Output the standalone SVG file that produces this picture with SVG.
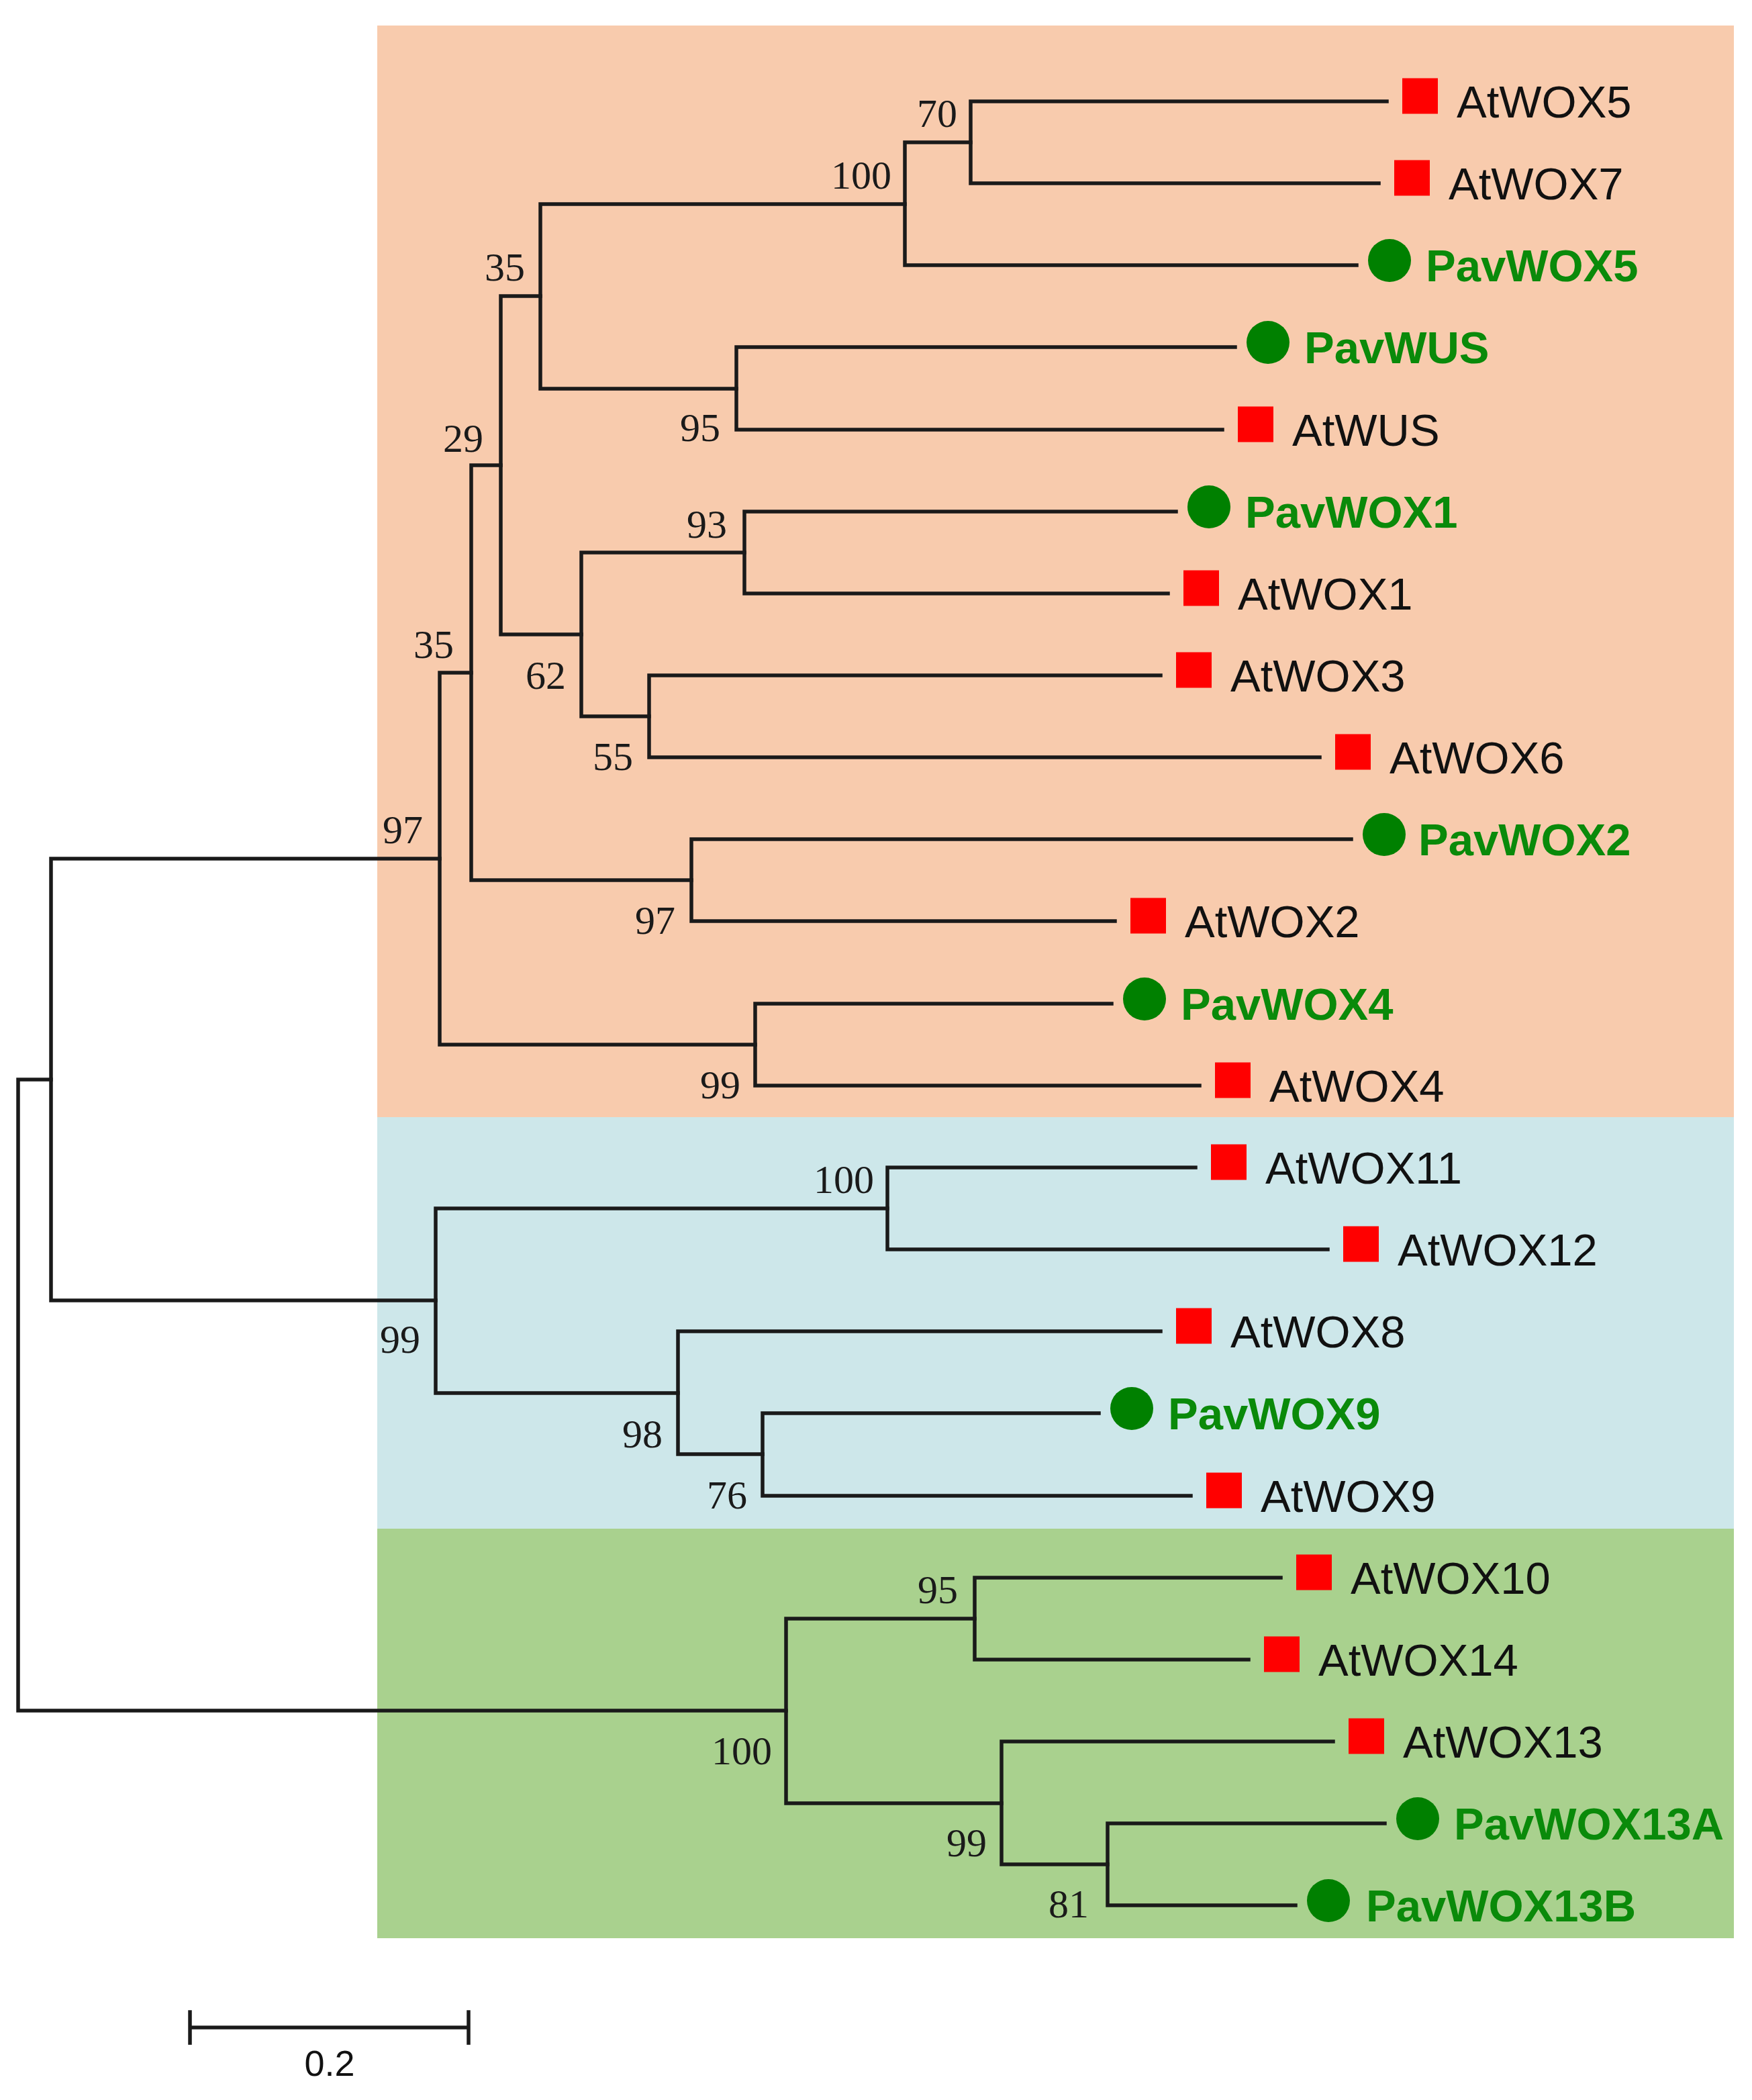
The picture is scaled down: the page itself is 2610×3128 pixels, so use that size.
<svg xmlns="http://www.w3.org/2000/svg" width="2610" height="3128" viewBox="0 0 2610 3128">
<style>
.br{fill:none;stroke:#1a1a1a;stroke-width:5.5;stroke-linecap:square;stroke-linejoin:miter}
.bs{font-family:"Liberation Serif","Times New Roman",serif;font-size:60px;fill:#1a1a1a;text-anchor:end}
.at{font-family:"Liberation Sans",Arial,sans-serif;font-size:67px;fill:#111}
.pv{font-family:"Liberation Sans",Arial,sans-serif;font-size:67px;font-weight:bold;fill:#0a8a0a}
.sq{fill:#ff0000}
.ci{fill:#008000}
</style>
<rect width="2610" height="3128" fill="#ffffff"/>
<g id="backgrounds">
<rect x="562" y="38" width="2021" height="1626" fill="#F8CBAD"/>
<rect x="562" y="1664" width="2021" height="613" fill="#CDE7EA"/>
<rect x="562" y="2277" width="2021" height="610" fill="#A9D18E"/>
</g>
<g id="connectors">
<path class="br" d="M2066,151 H1446 V273 H2054"/>
<path class="br" d="M1446,212 H1348 V395 H2021"/>
<path class="br" d="M1840,517 H1097 V640 H1821"/>
<path class="br" d="M1348,304 H805 V579 H1097"/>
<path class="br" d="M1752,762 H1109 V884 H1740"/>
<path class="br" d="M1729,1006 H967 V1128 H1966"/>
<path class="br" d="M1109,823 H866 V1067 H967"/>
<path class="br" d="M805,441 H746 V945 H866"/>
<path class="br" d="M2013,1250 H1030 V1372 H1661"/>
<path class="br" d="M746,693 H702 V1311 H1030"/>
<path class="br" d="M1656,1495 H1125 V1617 H1787"/>
<path class="br" d="M702,1002 H655 V1556 H1125"/>
<path class="br" d="M1781,1739 H1322 V1861 H1978"/>
<path class="br" d="M1637,2105 H1136 V2228 H1774"/>
<path class="br" d="M1729,1983 H1010 V2166 H1136"/>
<path class="br" d="M1322,1800 H649 V2075 H1010"/>
<path class="br" d="M655,1279 H76 V1937 H649"/>
<path class="br" d="M1908,2350 H1452 V2472 H1860"/>
<path class="br" d="M2063,2716 H1650 V2838 H1930"/>
<path class="br" d="M1986,2594 H1492 V2777 H1650"/>
<path class="br" d="M1452,2411 H1171 V2686 H1492"/>
<path class="br" d="M76,1608 H27 V2548 H1171"/>
</g>
<g id="bootstrap">
<text class="bs" x="1426" y="189">70</text>
<text class="bs" x="1328" y="281">100</text>
<text class="bs" x="1073" y="657">95</text>
<text class="bs" x="782" y="418">35</text>
<text class="bs" x="1083" y="801">93</text>
<text class="bs" x="943" y="1147">55</text>
<text class="bs" x="843" y="1026">62</text>
<text class="bs" x="720" y="673">29</text>
<text class="bs" x="1006" y="1391">97</text>
<text class="bs" x="676" y="980">35</text>
<text class="bs" x="1103" y="1636">99</text>
<text class="bs" x="630" y="1256">97</text>
<text class="bs" x="1302" y="1777">100</text>
<text class="bs" x="1113" y="2247">76</text>
<text class="bs" x="987" y="2156">98</text>
<text class="bs" x="626" y="2015">99</text>
<text class="bs" x="1427" y="2388">95</text>
<text class="bs" x="1622" y="2856">81</text>
<text class="bs" x="1470" y="2765">99</text>
<text class="bs" x="1150" y="2628">100</text>
</g>
<g id="leaf-AtWOX5"><rect class="sq" x="2089" y="116.5" width="53" height="53"/><text class="at" x="2170" y="175">AtWOX5</text></g>
<g id="leaf-AtWOX7"><rect class="sq" x="2077" y="238.5" width="53" height="53"/><text class="at" x="2158" y="297">AtWOX7</text></g>
<g id="leaf-PavWOX5"><circle class="ci" cx="2070" cy="388" r="32"/><text class="pv" x="2124" y="419">PavWOX5</text></g>
<g id="leaf-PavWUS"><circle class="ci" cx="1889" cy="510" r="32"/><text class="pv" x="1943" y="541">PavWUS</text></g>
<g id="leaf-AtWUS"><rect class="sq" x="1844" y="605.5" width="53" height="53"/><text class="at" x="1925" y="664">AtWUS</text></g>
<g id="leaf-PavWOX1"><circle class="ci" cx="1801" cy="755" r="32"/><text class="pv" x="1855" y="786">PavWOX1</text></g>
<g id="leaf-AtWOX1"><rect class="sq" x="1763" y="849.5" width="53" height="53"/><text class="at" x="1844" y="908">AtWOX1</text></g>
<g id="leaf-AtWOX3"><rect class="sq" x="1752" y="971.5" width="53" height="53"/><text class="at" x="1833" y="1030">AtWOX3</text></g>
<g id="leaf-AtWOX6"><rect class="sq" x="1989" y="1093.5" width="53" height="53"/><text class="at" x="2070" y="1152">AtWOX6</text></g>
<g id="leaf-PavWOX2"><circle class="ci" cx="2062" cy="1243" r="32"/><text class="pv" x="2113" y="1274">PavWOX2</text></g>
<g id="leaf-AtWOX2"><rect class="sq" x="1684" y="1337.5" width="53" height="53"/><text class="at" x="1765" y="1396">AtWOX2</text></g>
<g id="leaf-PavWOX4"><circle class="ci" cx="1705" cy="1488" r="32"/><text class="pv" x="1759" y="1519">PavWOX4</text></g>
<g id="leaf-AtWOX4"><rect class="sq" x="1810" y="1582.5" width="53" height="53"/><text class="at" x="1891" y="1641">AtWOX4</text></g>
<g id="leaf-AtWOX11"><rect class="sq" x="1804" y="1704.5" width="53" height="53"/><text class="at" x="1885" y="1763">AtWOX11</text></g>
<g id="leaf-AtWOX12"><rect class="sq" x="2001" y="1826.5" width="53" height="53"/><text class="at" x="2082" y="1885">AtWOX12</text></g>
<g id="leaf-AtWOX8"><rect class="sq" x="1752" y="1948.5" width="53" height="53"/><text class="at" x="1833" y="2007">AtWOX8</text></g>
<g id="leaf-PavWOX9"><circle class="ci" cx="1686" cy="2098" r="32"/><text class="pv" x="1740" y="2129">PavWOX9</text></g>
<g id="leaf-AtWOX9"><rect class="sq" x="1797" y="2193.5" width="53" height="53"/><text class="at" x="1878" y="2252">AtWOX9</text></g>
<g id="leaf-AtWOX10"><rect class="sq" x="1931" y="2315.5" width="53" height="53"/><text class="at" x="2012" y="2374">AtWOX10</text></g>
<g id="leaf-AtWOX14"><rect class="sq" x="1883" y="2437.5" width="53" height="53"/><text class="at" x="1964" y="2496">AtWOX14</text></g>
<g id="leaf-AtWOX13"><rect class="sq" x="2009" y="2559.5" width="53" height="53"/><text class="at" x="2090" y="2618">AtWOX13</text></g>
<g id="leaf-PavWOX13A"><circle class="ci" cx="2112" cy="2709" r="32"/><text class="pv" x="2166" y="2740">PavWOX13A</text></g>
<g id="leaf-PavWOX13B"><circle class="ci" cx="1979" cy="2831" r="32"/><text class="pv" x="2035" y="2862">PavWOX13B</text></g>
<g id="scale-bar">
<path class="br" d="M283,3020 H698 M283,2997 V3043 M698,2997 V3043"/>
<text x="491" y="3092" font-family="Liberation Sans, Arial, sans-serif" font-size="54" fill="#111" text-anchor="middle">0.2</text>
</g>
</svg>
